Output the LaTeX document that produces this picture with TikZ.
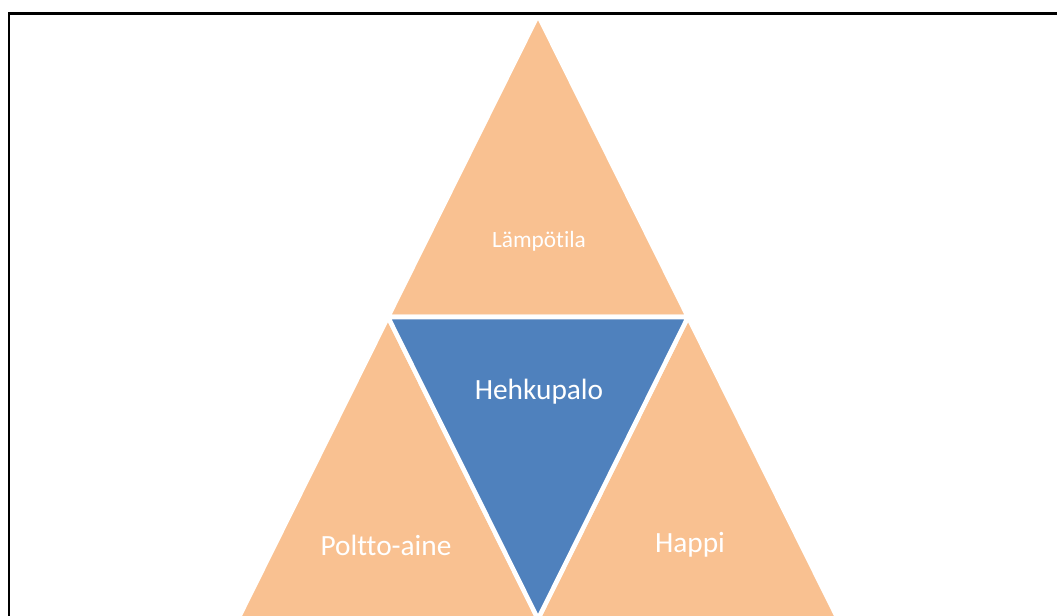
\documentclass[tikz,border=0pt]{standalone}
\usepackage{fontspec}
\setmainfont{Carlito}[Ligatures={NoCommon}]
\definecolor{corange}{HTML}{F9C191}
\definecolor{cblue}{HTML}{4F81BD}
\tikzset{
  piece/.style={fill=#1, draw=white, line width=3.4pt, line join=miter},
  lbl/.style={text=white, inner sep=0pt},
}
\begin{document}
\begin{tikzpicture}[x=0.75pt,y=-0.75pt]
  \useasboundingbox (0,0) rectangle (1057,615);
  \clip (0,0) rectangle (1057,615);
  % grid points of the big triangle
  \coordinate (apex) at (538,15);
  \coordinate (ml) at (388,317);
  \coordinate (mr) at (688,317);
  \coordinate (bl) at (238,619);
  \coordinate (bm) at (538,619);
  \coordinate (br) at (838,619);
  % outer pieces
  \foreach \a/\b/\c in {apex/ml/mr, ml/bl/bm, mr/bm/br}
    \filldraw[piece=corange] (\a) -- (\b) -- (\c) -- cycle;
  % middle piece
  \filldraw[piece=cblue] (ml) -- (mr) -- (bm) -- cycle;
  \node[lbl, font=\fontsize{17.5}{20}\selectfont] (heat) at (539,241) {Lämpötila};
  \node[lbl, font=\fontsize{22}{26}\selectfont] (glow) at (539,392) {Hehkupalo};
  \node[lbl, font=\fontsize{22}{26}\selectfont] (fuel) at (386,545) {Poltto-aine};
  \node[lbl, font=\fontsize{22}{26}\selectfont] (oxy) at (690,545) {Happi};
  % frame
  \draw[line width=1.6pt] (9,620) -- (9,13.5) -- (1060,13.5);
\end{tikzpicture}
\end{document}
